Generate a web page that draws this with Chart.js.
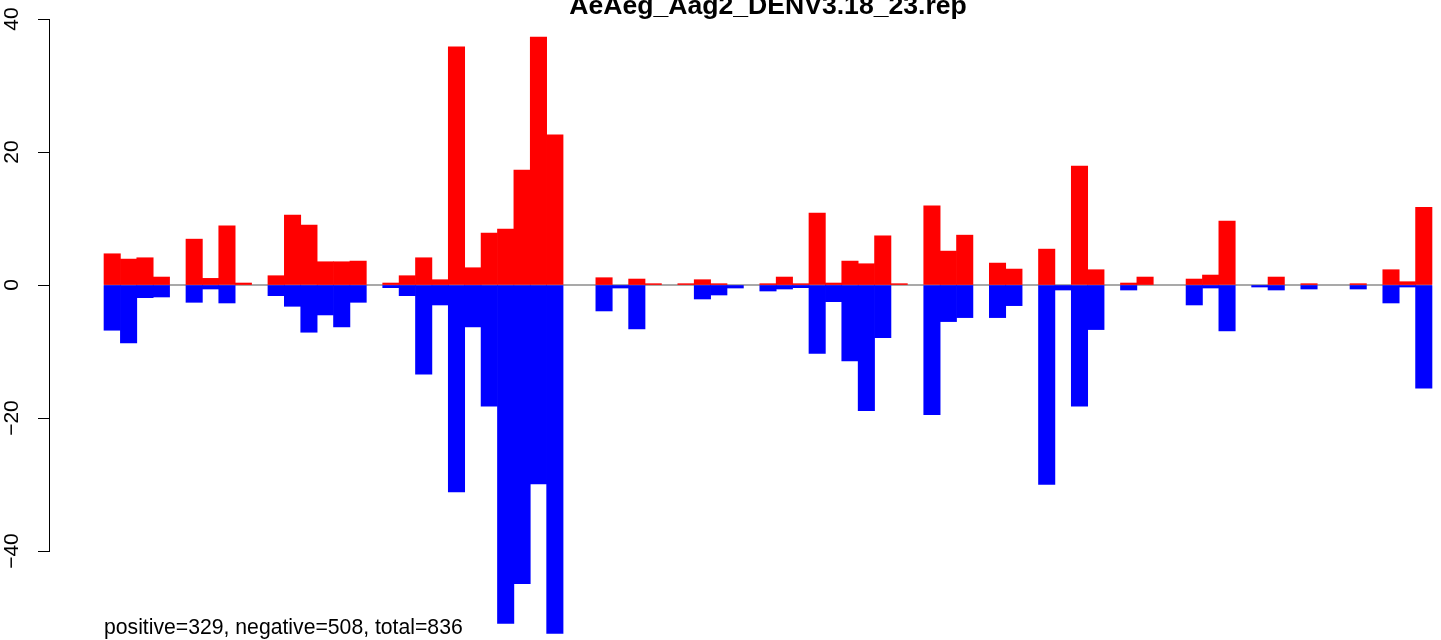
<!DOCTYPE html>
<html>
<head>
<meta charset="utf-8">
<script src="https://cdn.jsdelivr.net/npm/chart.js@4.4.1/dist/chart.umd.min.js"></script>
<style>
  html, body { margin: 0; padding: 0; background: #fff; }
  #wrap { width: 1441px; height: 640px; position: relative; }
</style>
</head>
<body>
<div id="wrap"><canvas id="myChart"></canvas></div>
<script>
var titleText = 'AeAeg_Aag2_DENV3.18_23.rep';
var footText = 'positive=329, negative=508, total=836';
var yTicks = [-40, -20, 0, 20, 40];

// one value per bin
var posValues = [4.7, 3.9, 4.1, 1.2, 0, 6.9, 1.0, 8.9, 0.3, 0,
                 1.4, 10.5, 9.0, 3.5, 3.5, 3.6, 0, 0.3, 1.4, 4.1,
                 0.8, 35.8, 2.6, 7.8, 8.4, 17.3, 37.3, 22.6, 0, 0,
                 1.1, 0, 0.9, 0.2, 0, 0.2, 0.8, 0.2, 0, 0,
                 0.2, 1.2, 0.2, 10.8, 0.3, 3.6, 3.2, 7.4, 0.2, 0,
                 11.9, 5.1, 7.5, 0, 3.3, 2.4, 0, 5.4, 0, 17.9,
                 2.3, 0, 0.3, 1.2, 0, 0, 0.9, 1.5, 9.6, 0,
                 0, 1.2, 0, 0.2, 0, 0, 0.2, 0, 2.3, 0.5,
                 11.7];
var negValues = [-6.8, -8.7, -1.9, -1.8, 0, -2.6, -0.6, -2.7, 0, 0,
                 -1.6, -3.2, -7.1, -4.5, -6.3, -2.6, 0, -0.4, -1.6, -13.4,
                 -3.0, -31.1, -6.3, -18.2, -50.9, -44.9, -29.9, -52.4, 0, 0,
                 -3.9, -0.45, -6.6, 0, 0, 0, -2.1, -1.5, -0.45, 0,
                 -0.9, -0.6, -0.4, -10.3, -2.5, -11.4, -18.9, -7.9, 0, 0,
                 -19.5, -5.5, -4.9, 0, -4.9, -3.1, 0, -30.0, -0.75, -18.2,
                 -6.7, 0, -0.75, 0, 0, 0, -3.0, -0.45, -6.9, 0,
                 -0.3, -0.75, 0, -0.6, 0, 0, -0.6, 0, -2.7, -0.3,
                 -15.5];

var fontFamily = '"Liberation Sans", Arial, Helvetica, sans-serif';

// empty bins get no bar at all (a zero bar leaves a sliver over the zero line)
function toPoints(arr) {
  return arr.map(function(v, i) { return { x: i, y: v === 0 ? null : v }; });
}

// zero line, axis line and the texts, R style
var rStyle = {
  id: 'rStyle',
  beforeDatasetsDraw: function(chart) {
    var ctx = chart.ctx, xs = chart.scales.x, ys = chart.scales.y;
    var y0 = ys.getPixelForValue(0);
    ctx.save();
    ctx.strokeStyle = '#8c8c8c';
    ctx.lineWidth = 1.5;
    ctx.beginPath();
    ctx.moveTo(xs.getPixelForValue(-0.5), y0);
    ctx.lineTo(xs.getPixelForValue(posValues.length - 0.5), y0);
    ctx.stroke();
    ctx.restore();
  },
  afterDraw: function(chart) {
    var ctx = chart.ctx, ys = chart.scales.y;
    ctx.save();
    ctx.strokeStyle = '#000';
    ctx.lineWidth = 1;
    ctx.beginPath();
    ctx.moveTo(ys.right - 0.5, ys.getPixelForValue(yTicks[0]));
    ctx.lineTo(ys.right - 0.5, ys.getPixelForValue(yTicks[yTicks.length - 1]));
    ctx.stroke();

    ctx.fillStyle = '#000';
    ctx.font = 'bold 26.6px ' + fontFamily;
    ctx.textAlign = 'center';
    ctx.textBaseline = 'alphabetic';
    ctx.fillText(titleText, 768, 14);

    ctx.font = '21.2px ' + fontFamily;
    ctx.textAlign = 'left';
    ctx.fillText(footText, 104, 634);
    ctx.restore();
  }
};

var ctx = document.getElementById('myChart').getContext('2d');

var myChart = new Chart(ctx, {
  type: 'bar',
  data: {
    datasets: [{
      label: 'positive',
      data: toPoints(posValues),
      backgroundColor: '#ff0000',
      borderWidth: 0,
      barPercentage: 1,
      categoryPercentage: 1
    }, {
      label: 'negative',
      data: toPoints(negValues),
      backgroundColor: '#0000ff',
      borderWidth: 0,
      barPercentage: 1,
      categoryPercentage: 1
    }]
  },
  options: {
    responsive: true,
    maintainAspectRatio: false,
    animation: false,
    layout: { padding: 0 },
    plugins: {
      legend: { display: false },
      tooltip: { enabled: false },
      title: { display: false }
    },
    scales: {
      x: {
        type: 'linear',
        display: false,
        stacked: true,
        offset: false,
        min: -3.794,
        max: 81.05,
        grid: { offset: false }
      },
      y: {
        stacked: true,
        min: -53.38,
        max: 42.86,
        afterBuildTicks: function(scale) {
          scale.ticks = yTicks.map(function(v) { return { value: v }; });
        },
        afterFit: function(scale) {
          scale.width = 50;
          scale.paddingTop = 0;
          scale.paddingBottom = 0;
        },
        grid: {
          drawOnChartArea: false,
          drawTicks: true,
          tickLength: 12,
          color: '#000',
          lineWidth: 1
        },
        border: { display: false },
        ticks: {
          minRotation: 90,
          maxRotation: 90,
          crossAlign: 'center',
          padding: 7.6,
          color: '#000',
          font: { family: fontFamily, size: 21 },
          callback: function(v) { return v < 0 ? '\u2212' + Math.abs(v) : String(v); }
        }
      }
    }
  },
  plugins: [rStyle]
});
</script>
</body>
</html>
